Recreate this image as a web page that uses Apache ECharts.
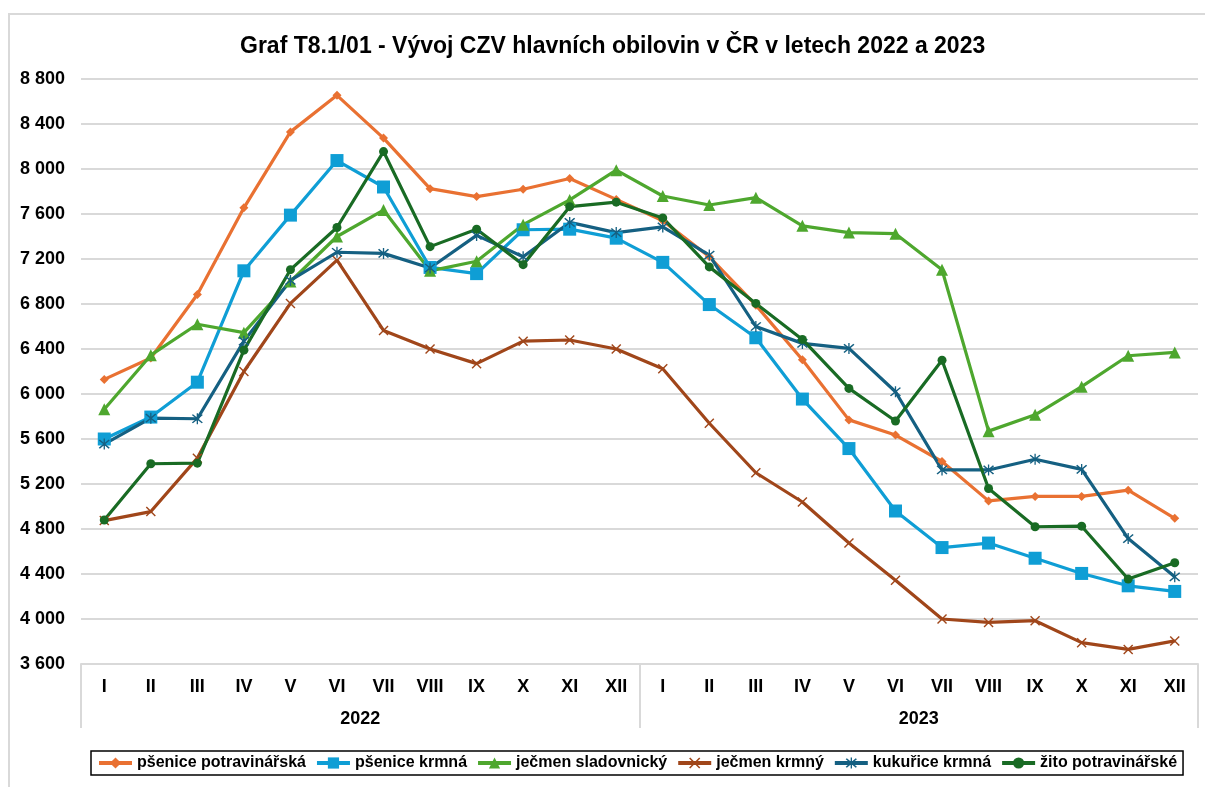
<!DOCTYPE html>
<html>
<head>
<meta charset="utf-8">
<title>Graf T8.1/01</title>
<script src="https://cdn.jsdelivr.net/npm/echarts@6/dist/echarts.min.js"></script>
<style>
  html, body { margin: 0; padding: 0; background: #fff; }
  #frame { position: absolute; left: 8px; top: 13px; width: 1300px; height: 900px;
           border-left: 2px solid #d9d9d9; border-top: 2px solid #d9d9d9; }
  #chart { position: absolute; left: 0; top: 0; width: 1205px; height: 787px; }
</style>
</head>
<body>
<div id="frame"></div>
<div id="chart"></div>
<script>
const years = ['2022', '2023']
const months = ['I', 'II', 'III', 'IV', 'V', 'VI', 'VII', 'VIII', 'IX', 'X', 'XI', 'XII']
const categories = years.flatMap((y) => months.map((m) => y + ' ' + m))

// CZV v Kč/t
const psenicePotravinarska = [6130, 6320, 6885, 7655, 8330, 8655, 8275, 7825, 7755, 7820, 7915, 7730,
  7540, 7220, 6790, 6305, 5770, 5635, 5400, 5050, 5090, 5090, 5145, 4895]
const psoniceKrmna = [5600, 5795, 6105, 7095, 7590, 8075, 7840, 7125, 7070, 7460, 7465, 7385,
  7170, 6795, 6500, 5955, 5515, 4960, 4635, 4675, 4540, 4405, 4295, 4245]
const jecmenSladovnicky = [5865, 6345, 6620, 6545, 7000, 7400, 7635, 7095, 7180, 7505, 7725, 7990,
  7760, 7680, 7745, 7495, 7435, 7425, 7105, 5670, 5815, 6065, 6340, 6370]
const jecmenKrmny = [4875, 4955, 5430, 6200, 6805, 7190, 6565, 6400, 6270, 6470, 6480, 6400,
  6225, 5740, 5300, 5040, 4675, 4345, 4000, 3970, 3985, 3790, 3730, 3805]
const kukuriceKrmna = [5555, 5785, 5780, 6470, 7010, 7260, 7250, 7120, 7410, 7220, 7525, 7435,
  7485, 7235, 6600, 6450, 6405, 6020, 5325, 5325, 5420, 5330, 4715, 4375]
const zitoPotravinarske = [4880, 5380, 5385, 6390, 7105, 7480, 8155, 7310, 7465, 7150, 7665, 7705,
  7565, 7130, 6805, 6485, 6050, 5760, 6300, 5160, 4820, 4825, 4355, 4500]

const font = '"Liberation Sans", Arial, sans-serif'
const xMark = 'path://M0,1 L1,0 L5,4 L9,0 L10,1 L6,5 L10,9 L9,10 L5,6 L1,10 L0,9 L4,5 Z'
const starMark = 'path://M0,1 L1,0 L5,4 L9,0 L10,1 L6,5 L10,9 L9,10 L5,6 L1,10 L0,9 L4,5 Z M4.4,-1 L5.6,-1 L5.6,11 L4.4,11 Z'

function makeSeries(name, data, color, symbol, size) {
  return {
    name: name,
    type: 'line',
    data: data,
    symbol: symbol,
    symbolSize: size,
    showAllSymbol: true,
    lineStyle: { color: color, width: 3.2 },
    itemStyle: { color: color, borderWidth: 0 }
  }
}

const chartInstance = echarts.init(document.getElementById('chart'))

let option = {
  animation: false,
  textStyle: { fontFamily: font },
  title: {
    text: 'Graf T8.1/01 - Vývoj CZV hlavních obilovin v ČR v letech 2022 a 2023',
    left: 240,
    top: 35,
    padding: 0,
    textStyle: { fontFamily: font, fontSize: 23, fontWeight: 'bold', color: '#000' }
  },
  legend: {
    left: 91,
    top: 751,
    padding: [4, 6],
    itemGap: 9,
    itemWidth: 33,
    itemHeight: 14,
    borderColor: '#000',
    borderWidth: 1.5,
    lineStyle: { width: 4 },
    textStyle: { fontFamily: font, fontSize: 16, fontWeight: 'bold', color: '#000' },
    data: ['pšenice potravinářská', 'pšenice krmná', 'ječmen sladovnický', 'ječmen krmný', 'kukuřice krmná', 'žito potravinářské']
  },
  grid: { left: 81, right: 7, top: 79, bottom: 123 },
  xAxis: [
    {
      type: 'category',
      data: categories,
      boundaryGap: true,
      axisLine: { show: true, lineStyle: { color: '#d9d9d9', width: 2 } },
      axisTick: { show: false },
      axisLabel: {
        interval: 0,
        margin: 14,
        fontFamily: font,
        fontSize: 18,
        fontWeight: 'bold',
        color: '#000',
        formatter: (value) => value.split(' ')[1]
      }
    },
    {
      type: 'category',
      data: years,
      position: 'bottom',
      boundaryGap: true,
      axisLine: { show: false },
      axisTick: { show: true, interval: 0, length: 64, lineStyle: { color: '#d9d9d9', width: 2 } },
      axisLabel: { margin: 46, fontFamily: font, fontSize: 18, fontWeight: 'bold', color: '#000' }
    }
  ],
  yAxis: {
    type: 'value',
    min: 3600,
    max: 8800,
    interval: 400,
    axisLine: { show: false },
    axisTick: { show: false },
    splitLine: { lineStyle: { color: '#d9d9d9', width: 2 } },
    axisLabel: {
      margin: 16,
      fontFamily: font,
      fontSize: 18,
      fontWeight: 'bold',
      color: '#000',
      formatter: (v) => String(v).replace(/\B(?=(\d{3})+(?!\d))/g, ' ')
    }
  },
  series: [
    makeSeries('pšenice potravinářská', psenicePotravinarska, '#E97132', 'diamond', 9),
    makeSeries('pšenice krmná', psoniceKrmna, '#0F9ED5', 'rect', 13),
    makeSeries('ječmen sladovnický', jecmenSladovnicky, '#4EA72E', 'triangle', 12),
    makeSeries('ječmen krmný', jecmenKrmny, '#A0461A', xMark, 10),
    makeSeries('kukuřice krmná', kukuriceKrmna, '#156082', starMark, 11),
    makeSeries('žito potravinářské', zitoPotravinarske, '#196B24', 'circle', 9)
  ]
}

chartInstance.setOption(option)
</script>
</body>
</html>
